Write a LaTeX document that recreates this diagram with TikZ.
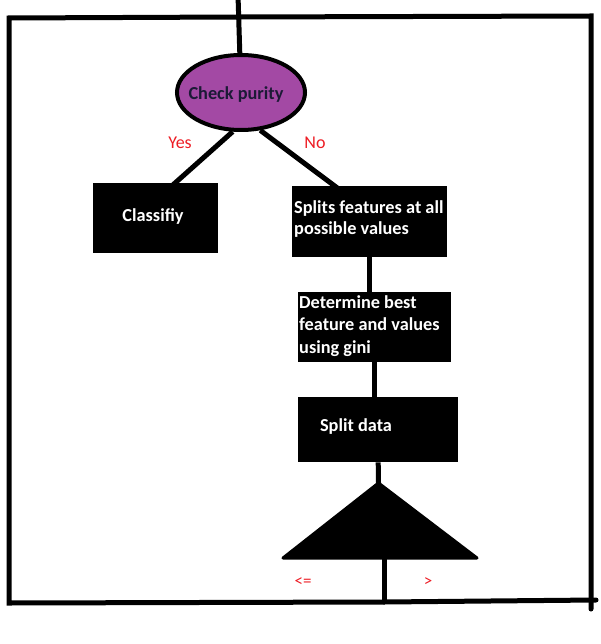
\documentclass[tikz,border=0pt]{standalone}
\usepackage{fontspec}
\setmainfont{Carlito}
\usetikzlibrary{shapes.geometric}
\definecolor{paintpurple}{HTML}{A349A4}
\definecolor{paintred}{HTML}{ED1C24}
\definecolor{inkdark}{HTML}{1C1A36}
\begin{document}
\begin{tikzpicture}[x=1pt,y=-1pt,
  frame/.style={line width=5pt, line cap=round},
  conn/.style={line width=5pt},
  blackbox/.style={fill=black, draw=none, inner sep=0pt, anchor=north west},
  boxtext/.style={text=white, inner sep=0pt, align=left, font=\bfseries\fontsize{18.3}{21.5}\selectfont},
  lbl/.style={text=paintred, inner sep=0pt, font=\fontsize{18}{20}\selectfont},
  smalllbl/.style={text=paintred, inner sep=0pt, font=\fontsize{17}{19}\selectfont}]
\useasboundingbox (0,0) rectangle (601,644);

% frame coordinates
\coordinate (topin) at (238,-5);
\coordinate (tj) at (238,17);
\coordinate (tl) at (9,18);
\coordinate (tr) at (591,16);
\coordinate (bl) at (9,603);
\coordinate (br) at (591,609);
\coordinate (bj) at (384,602);
\coordinate (bre) at (596,600);

% nodes
\node[ellipse, draw=black, line width=4pt, fill=paintpurple, minimum width=128pt, minimum height=75pt, inner sep=0pt] (check) at (241,92.5) {};
\node[text=inkdark, inner sep=0pt, font=\bfseries\fontsize{18.3}{20}\selectfont] (checkt) at (236,95) {Check purity};

\node[blackbox, minimum width=125pt, minimum height=70pt] (classify) at (93,183) {};
\node[boxtext] (classifyt) at (153,217) {Classifiy};

\node[blackbox, minimum width=155pt, minimum height=71pt] (splits) at (292,186) {};
\node[boxtext, anchor=west] (splitst) at (294,219) {Splits features at all\\possible values};

\node[blackbox, minimum width=153pt, minimum height=70pt] (determine) at (298,292) {};
\node[boxtext, anchor=west, font=\bfseries\fontsize{18.3}{22.5}\selectfont] (determinet) at (299,326) {Determine best\\feature and values\\using gini};

\node[blackbox, minimum width=160pt, minimum height=65pt] (splitdata) at (298,397) {};
\node[boxtext] (splitdatat) at (356,427) {Split data};

% triangle
\coordinate (apex) at (378.5,483);
\coordinate (triL) at (283,558);
\coordinate (triR) at (477,558);
\coordinate (tribase) at (384,556);
\fill[black, line join=round] (apex) -- (triR) -- (triL) -- cycle;
\draw[line width=3pt, line join=round] (apex) -- (triR) -- (triL) -- cycle;

% labels
\node[lbl] (yes) at (180,143) {Yes};
\node[lbl] (no) at (315,143) {No};
\node[smalllbl] (le) at (303,582) {<=};
\node[smalllbl] (gt) at (428,582) {>};

% connectors
\draw[conn] (topin) -- (check);
\draw[conn] (check.258) -- ([xshift=16pt,yshift=-3pt]classify.north);
\draw[conn] (check.297) -- ([xshift=-31pt,yshift=-3pt]splits.north);
\draw[conn] (splits.south) -- (splits.south |- determine.north);
\draw[conn] (determine.south) -- (determine.south |- splitdata.north);
\draw[conn] (splitdata.south) -- (apex);
\draw[conn] (tribase) -- (bj);

% frame
\draw[frame] (tj) -- (tl) -- (bl) -- (bj);
\draw[frame] (tj) -- (tr) -- (br);
\draw[frame] (bj) -- (bre);
\end{tikzpicture}
\end{document}
